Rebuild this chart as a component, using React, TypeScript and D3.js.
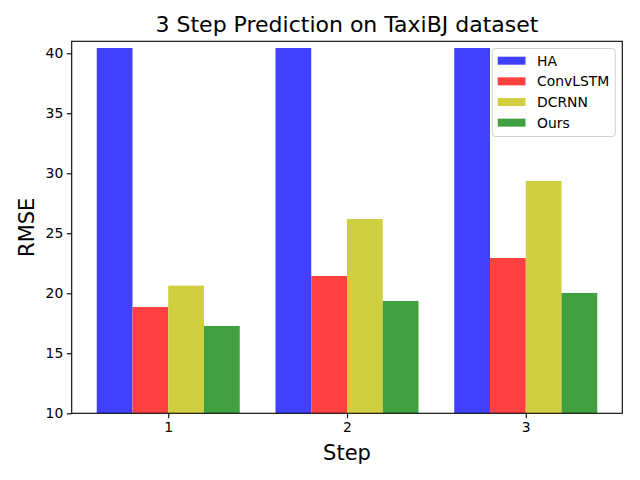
import { useEffect, useRef } from 'react'
import * as d3 from 'd3'

const STEPS = [1, 2, 3]
const SERIES_NAMES = ['HA', 'ConvLSTM', 'DCRNN', 'Ours']
const HA = [40.44, 40.44, 40.44]
const CONVLSTM = [18.86, 21.44, 22.94]
const DCRNN = [20.64, 26.19, 29.36]
const OURS = [17.28, 19.36, 20.03]
const COLORS = ['#4040ff', '#ff4040', '#d0cf40', '#40a040']
const Y_TICKS = [10, 15, 20, 25, 30, 35, 40]

const W = 640
const H = 480
const FONT = 'DejaVu Sans, sans-serif'

export default function App() {
  const ref = useRef<SVGSVGElement | null>(null)

  useEffect(() => {
    if (!ref.current) return
    const svg = d3.select(ref.current)
    svg.selectAll('*').remove()

    const left = 71.7
    const right = 622.3
    const top = 41.3
    const bottom = 413.3
    const barW = 0.2

    const x = d3.scaleLinear().domain([0.46, 3.54]).range([left, right])
    const y = d3.scaleLinear().domain([10, 41]).range([bottom, top])
    const values = [HA, CONVLSTM, DCRNN, OURS]

    svg.append('rect').attr('width', W).attr('height', H).attr('fill', '#fff')

    svg
      .append('clipPath')
      .attr('id', 'plot-clip')
      .append('rect')
      .attr('x', left)
      .attr('y', top)
      .attr('width', right - left)
      .attr('height', bottom - top)

    // Bars
    const bars = svg.append('g').attr('clip-path', 'url(#plot-clip)')
    values.forEach((vals, i) => {
      bars
        .selectAll(null)
        .data(STEPS)
        .enter()
        .append('rect')
        .attr('x', (s) => x(s + (i - 2) * barW))
        .attr('width', x(barW) - x(0))
        .attr('y', (_, j) => y(vals[j]))
        .attr('height', (_, j) => bottom - y(vals[j]))
        .attr('fill', COLORS[i])
    })

    // Axes
    const yAxis = d3.axisLeft(y).tickValues(Y_TICKS).tickSize(4.9).tickPadding(3.5).tickFormat(d3.format('d'))
    const xAxis = d3.axisBottom(x).tickValues(STEPS).tickSize(4.9).tickPadding(3.5).tickFormat(d3.format('d'))

    const gy = svg.append('g').attr('transform', `translate(${left},0)`).call(yAxis)
    const gx = svg.append('g').attr('transform', `translate(0,${bottom})`).call(xAxis)
    ;[gx, gy].forEach((g) => {
      g.select('.domain').remove()
      g.selectAll('line').attr('stroke', '#000').attr('stroke-width', 1.1)
      g.selectAll('text').attr('fill', '#000').attr('font-size', '13.9px').attr('font-family', FONT)
    })

    // Spines
    svg
      .append('rect')
      .attr('x', left)
      .attr('y', top)
      .attr('width', right - left)
      .attr('height', bottom - top)
      .attr('fill', 'none')
      .attr('stroke', '#000')
      .attr('stroke-width', 1.1)

    // Title & labels
    svg
      .append('text')
      .attr('x', (left + right) / 2)
      .attr('y', 32)
      .attr('text-anchor', 'middle')
      .attr('font-family', FONT)
      .attr('font-size', '22px')
      .attr('fill', '#000')
      .text('3 Step Prediction on TaxiBJ dataset')

    svg
      .append('text')
      .attr('x', (left + right) / 2)
      .attr('y', 460)
      .attr('text-anchor', 'middle')
      .attr('font-family', FONT)
      .attr('font-size', '21px')
      .attr('fill', '#000')
      .text('Step')

    svg
      .append('text')
      .attr('transform', `translate(34,${(top + bottom) / 2}) rotate(-90)`)
      .attr('text-anchor', 'middle')
      .attr('font-family', FONT)
      .attr('font-size', '21px')
      .attr('fill', '#000')
      .text('RMSE')

    // Legend
    const lg = svg.append('g')
    lg.append('rect')
      .attr('x', 492.3)
      .attr('y', 48.5)
      .attr('width', 123)
      .attr('height', 88)
      .attr('rx', 3)
      .attr('fill', 'rgba(255,255,255,0.8)')
      .attr('stroke', '#d0d0d0')
      .attr('stroke-width', 1)
    SERIES_NAMES.forEach((name, i) => {
      const cy = 60.7 + i * 20.65
      lg.append('rect')
        .attr('x', 497.7)
        .attr('y', cy - 4)
        .attr('width', 27.8)
        .attr('height', 8)
        .attr('fill', COLORS[i])
      lg.append('text')
        .attr('x', 537)
        .attr('y', cy + 5)
        .attr('font-family', FONT)
        .attr('font-size', '13.9px')
        .attr('fill', '#000')
        .text(name)
    })
  }, [])

  return (
    <div style={{ position: 'absolute', left: 0, top: 0 }}>
      <svg ref={ref} width={W} height={H} style={{ display: 'block' }} />
    </div>
  )
}
